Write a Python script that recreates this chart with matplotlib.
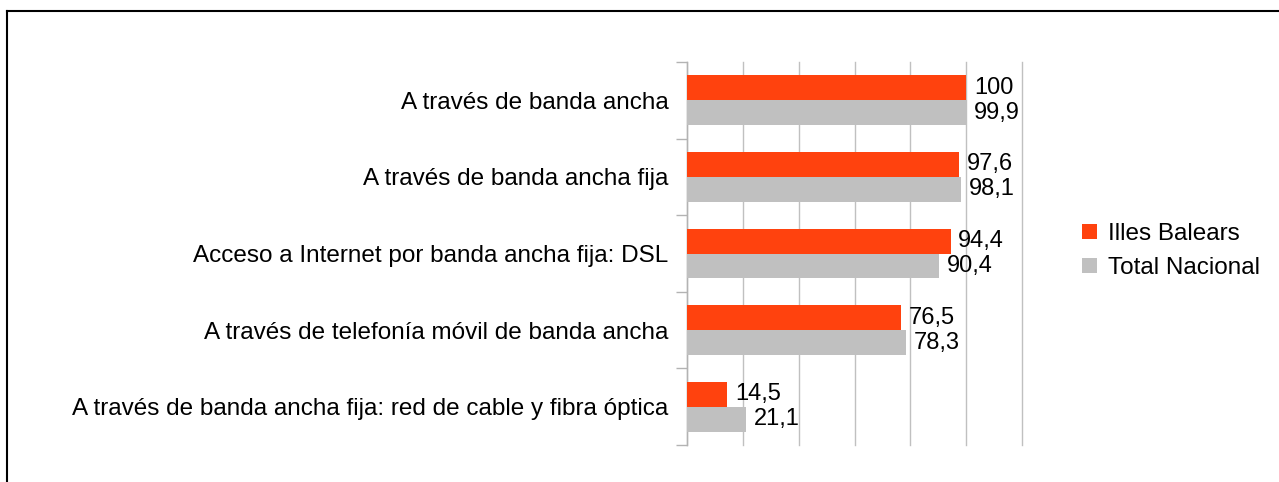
import matplotlib
matplotlib.use("Agg")
import matplotlib.pyplot as plt
from matplotlib.patches import Patch
from matplotlib.lines import Line2D
import numpy as np

plt.rcParams['font.family'] = ['Liberation Sans', 'DejaVu Sans']

categories = [
    "A través de banda ancha",
    "A través de banda ancha fija",
    "Acceso a Internet por banda ancha fija: DSL",
    "A través de telefonía móvil de banda ancha",
    "A través de banda ancha fija: red de cable y fibra óptica",
]
illes_balears = [100, 97.6, 94.4, 76.5, 14.5]
total_nacional = [99.9, 98.1, 90.4, 78.3, 21.1]
series_names = ["Illes Balears", "Total Nacional"]
colors = ["#ff420e", "#c0c0c0"]

W, H = 1279, 482
fig = plt.figure(figsize=(W / 100, H / 100), dpi=100)
ax = fig.add_axes([687 / W, 1 - 445 / H, (1022 - 687) / W, (445 - 62) / H])

y = np.arange(len(categories))
bh = 0.326
b1 = ax.barh(y - bh / 2, illes_balears, height=bh, color=colors[0], zorder=3)
b2 = ax.barh(y + bh / 2, total_nacional, height=bh, color=colors[1], zorder=3)

def fmt(v):
    s = f"{v:g}"
    return s.replace(".", ",")

for bars, vals in ((b1, illes_balears), (b2, total_nacional)):
    for r, v in zip(bars, vals):
        ax.text(r.get_width() + 2.8, r.get_y() + r.get_height() / 2, fmt(v),
                va="center", ha="left", fontsize=17, color="#000000", zorder=4)

ax.set_xlim(0, 120)
ax.set_ylim(len(categories) - 0.5, -0.5)
ax.set_xticks(np.arange(0, 121, 20))
ax.tick_params(axis="x", length=0, labelbottom=False)
ax.grid(axis="x", color="#c0c0c0", linewidth=1, zorder=0)
for gl in ax.get_xgridlines():
    gl.set_clip_on(False)

ax.set_yticks(y)
ax.set_yticklabels(categories, fontsize=17.5)
ax.tick_params(axis="y", which="major", length=0, pad=13.5)
ax.set_yticks(np.arange(-0.5, len(categories), 1), minor=True)
ax.tick_params(axis="y", which="minor", length=8, color="#b3b3b3", width=1)

for s in ("top", "right", "bottom"):
    ax.spines[s].set_visible(False)
ax.spines["left"].set_color("#b3b3b3")
ax.spines["left"].set_linewidth(1)

handles = [Patch(facecolor=c, edgecolor="none") for c in colors]
fig.legend(handles, series_names, loc="center left",
           bbox_to_anchor=(1082 / W, 1 - 251 / H), frameon=False,
           fontsize=17.5, handlelength=0.6, handleheight=0.6,
           handletextpad=0.45, labelspacing=0.5, borderpad=0, borderaxespad=0)

# outer frame (left and top edges visible)
fig.add_artist(Line2D([6.5 / W, 6.5 / W], [0, 1 - 10.5 / H], transform=fig.transFigure,
                      color="black", linewidth=1.5))
fig.add_artist(Line2D([6.5 / W, 1], [1 - 10.5 / H, 1 - 10.5 / H], transform=fig.transFigure,
                      color="black", linewidth=1.5))

fig.savefig("out.png", dpi=100)
